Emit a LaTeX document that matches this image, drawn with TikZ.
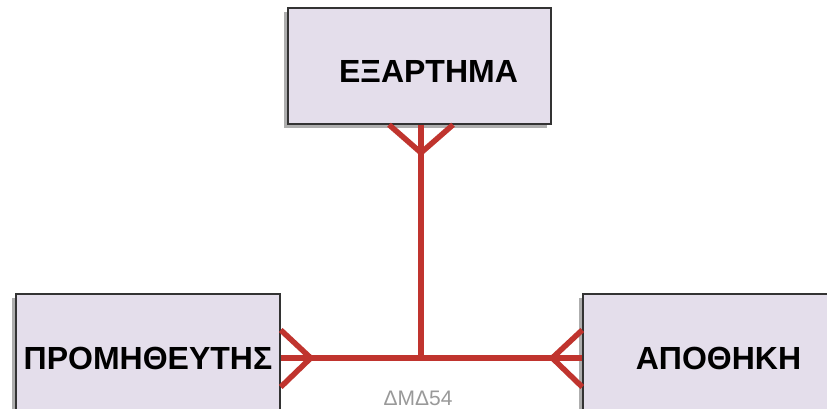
\documentclass[tikz,border=0pt]{standalone}
\usepackage{fontspec}
\setmainfont{Liberation Sans}
\usetikzlibrary{shadows}
\definecolor{relred}{RGB}{192,52,46}
\definecolor{entfill}{RGB}{228,222,235}

\tikzset{
  entity/.style={draw=black!80, line width=1.5pt, fill=entfill, rectangle,
    inner sep=0pt, font=\fontsize{32}{38}\selectfont\bfseries,
    drop shadow={shadow xshift=-4pt, shadow yshift=-4pt, opacity=0.45, fill=black!70}},
  rel/.style={draw=relred, line width=6.5pt},
  foot/.style={draw=relred, line width=5.5pt}
}

\begin{document}
\begin{tikzpicture}[x=1pt,y=-1pt]
\clip (0,0) rectangle (827,409);
\fill [white] (0,0) rectangle (827,409);
\node [entity, minimum width=263pt, minimum height=116pt,
  label={[font=\fontsize{32}{38}\selectfont\bfseries, xshift=9pt, yshift=-5pt]center:ΕΞΑΡΤΗΜΑ}]
  (ex) at (419.5,66) {};
\node [entity, minimum width=264pt, minimum height=128pt] (prom) at (148,358) {ΠΡΟΜΗΘΕΥΤΗΣ};
\node [entity, minimum width=271pt, minimum height=128pt] (apo) at (718.5,358) {ΑΠΟΘΗΚΗ};
\coordinate (j) at (421,358);
% relationship lines
\draw [rel] (prom.east) -- (j) -- (apo.west);
\draw [rel] (j) -- (j |- ex.south);
% crow's feet
\draw [foot] ([xshift=-32pt]ex.south -| j) -- ([yshift=-28pt]ex.south -| j) -- ([xshift=32pt]ex.south -| j);
\draw [foot] ([yshift=-29pt]prom.east) -- ([xshift=30pt]prom.east) -- ([yshift=28pt]prom.east);
\draw [foot] ([yshift=-29pt]apo.west) -- ([xshift=-30pt]apo.west) -- ([yshift=28pt]apo.west);
\node [text=black!40, font=\fontsize{21}{24}\selectfont] (code) at (418,398) {ΔΜΔ54};
\end{tikzpicture}
\end{document}
